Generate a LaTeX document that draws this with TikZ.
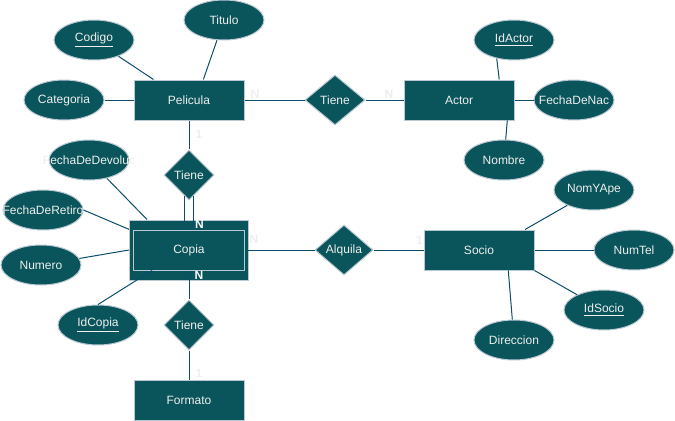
\documentclass[tikz,border=0pt]{standalone}
\usepackage{xcolor}
\usepackage{tikz}
\usepackage{fontspec}
\setmainfont{Liberation Sans}
\usetikzlibrary{shapes.geometric,positioning}

\definecolor{erfill}{HTML}{09555B}
\definecolor{erline}{HTML}{BAC8D3}
\definecolor{ertext}{HTML}{EEEEEE}
\definecolor{eredge}{HTML}{0B4D6A}

\begin{document}
\begin{tikzpicture}[x=0.75pt, y=-0.75pt, node distance=56.25pt, on grid,
                    every node/.style={font=\fontsize{9}{11}\selectfont, text=ertext},
                    entity/.style={rectangle, draw=erline, fill=erfill, line width=0.75pt,
                                   minimum width=82.5pt, minimum height=30pt},
                    attrib/.style={ellipse, draw=erline, fill=erfill, line width=0.75pt,
                                   minimum width=60pt, minimum height=30pt, inner sep=0pt,
                                   execute at begin node={\hbox to 0pt\bgroup\hss},
                                   execute at end node={\hss\egroup}},
                    relation/.style={diamond, draw=erline, fill=erfill, line width=0.75pt,
                                     minimum width=37.5pt, minimum height=37.5pt, inner sep=0pt},
                    link/.style={draw=eredge, line width=0.75pt},
                    card/.style={font=\fontsize{9}{11}\selectfont\bfseries, inner sep=1pt, anchor=center}]
    %\draw[help lines] (0,0) grid (675,421);
   \useasboundingbox (0,0) rectangle (675,421);

   % entities and relations
   \node[entity] (pelicula) at (189,100) {Pelicula};
   \node[relation] (tiene2) [below=of pelicula] {Tiene};
   \node[entity, minimum width=89.25pt, minimum height=45pt] (copia) [below=of tiene2] {};
   \node[entity, minimum width=83.25pt, minimum height=30pt, fill=none] (copiain) at (copia) {Copia};
   \node[relation] (tiene3) [below=of copia] {Tiene};
   \node[entity] (formato) [below=of tiene3] {Formato};
   \node[relation, minimum width=45pt] (tiene1) at (335,100) {Tiene};
   \node[entity] (actor) at (459,100) {Actor};
   \node[relation, minimum width=43.5pt] (alquila) at (344,250) {Alquila};
   \node[entity] (socio) at (479,250) {Socio};

   % attributes
   \node[attrib] (codigo) at (94,40) {\underline{Codigo}};
   \node[attrib] (titulo) at (224,20) {Titulo};
   \node[attrib] (categoria) at (64,100) {Categoria};
   \node[attrib] (idactor) at (514,40) {\underline{IdActor}};
   \node[attrib] (fechanac) at (574,100) {FechaDeNac};
   \node[attrib] (nombre) at (504,160) {Nombre};
   \node[attrib] (fechadev) at (89,160) {FechaDeDevoluc};
   \node[attrib] (fecharet) at (43,210) {FechaDeRetiro};
   \node[attrib] (numero) at (41,265) {Numero};
   \node[attrib] (idcopia) at (98,325) {\underline{IdCopia}};
   \node[attrib] (nomyape) at (594,190) {NomYApe};
   \node[attrib] (numtel) at (634,250) {NumTel};
   \node[attrib] (idsocio) at (604,310) {\underline{IdSocio}};
   \node[attrib] (direccion) at (514,340) {Direccion};

   % Define connections
   \path[link]
    (categoria) edge (pelicula)
    (codigo) edge (pelicula.150)
    (titulo) edge (pelicula.55)
    (pelicula) edge node[card, pos=0.18, yshift=4.5pt] (npt) {N} (tiene1)
    (tiene1) edge node[card, pos=0.62, yshift=4.5pt] (nta) {N} (actor)
    (idactor.227) edge (actor.27)
    (fechanac) edge (actor)
    (nombre) edge (actor.-23)
    (pelicula) edge node[card, pos=0.47, xshift=7.5pt] (upc) {1} (tiene2)
    (tiene2.-102) edge (tiene2.-102 |- copiain.north)
    (tiene2.-78) edge node[card, pos=0.86, xshift=4.5pt, text=white] (ncp) {N} (tiene2.-78 |- copiain.north)
    (fechadev) edge (copia.144)
    (fecharet.east) edge (copia.161)
    (numero) edge (copia.west)
    (idcopia.north) edge (copiain.-151)
    (copiain) edge node[card, pos=0.17, xshift=7.5pt, text=white] (nct) {N} (tiene3)
    (tiene3) edge node[card, pos=0.8, xshift=7.5pt] (utf) {1} (formato)
    (copiain) edge node[card, pos=0.13, yshift=8pt] (nca) {N} (alquila)
    (alquila) edge node[card, pos=0.92, yshift=7.5pt] (uas) {1} (socio)
    (nomyape) edge (socio.24)
    (numtel) edge (socio)
    (idsocio) edge (socio.south east)
    (direccion) edge (socio.-35);

\end{tikzpicture}
\end{document}
